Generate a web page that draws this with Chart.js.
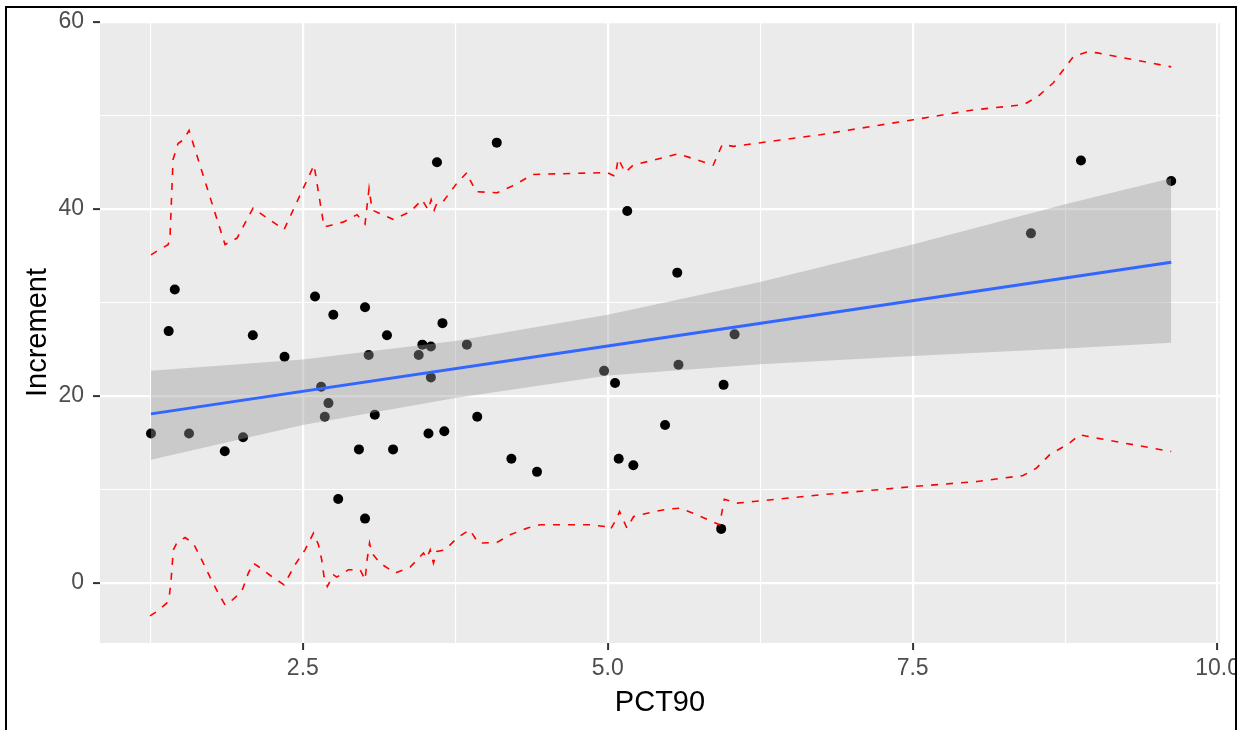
<!DOCTYPE html>
<html>
<head>
<meta charset="utf-8">
<script src="https://cdn.jsdelivr.net/npm/chart.js@4.4.1/dist/chart.umd.min.js"></script>
<style>
  html, body { margin: 0; padding: 0; background: #ffffff; overflow: hidden; }
  #wrap { position: relative; width: 1241px; height: 730px; }
  #c { position: absolute; left: 0; top: 0; }
  #frame { position: absolute; left: 5px; top: 6px; width: 1228px; height: 800px; border: 2px solid #000; }
  #edge { position: absolute; left: 1237px; top: 0; width: 4px; height: 730px; background: #fff; }
</style>
</head>
<body>
<div id="wrap">
  <canvas id="c" width="1241" height="730"></canvas>
  <div id="frame"></div>
  <div id="edge"></div>
</div>
<script>
// observed points, sorted by PCT90
const pctX = [1.255, 1.40, 1.45, 1.567, 1.86, 2.01, 2.09, 2.35, 2.60, 2.65, 2.68, 2.71, 2.75, 2.79, 2.96, 3.01,
  3.01, 3.04, 3.09, 3.19, 3.24, 3.45, 3.48, 3.53, 3.55, 3.55, 3.60, 3.645, 3.66, 3.845, 3.93, 4.09,
  4.21, 4.42, 4.97, 5.06, 5.09, 5.16, 5.21, 5.47, 5.57, 5.58, 5.93, 5.95, 6.04, 8.47, 8.88, 9.62];
const incrementY = [16.0, 26.95, 31.4, 16.0, 14.1, 15.6, 26.5, 24.2, 30.65, 21.0, 17.8, 19.25, 28.7, 9.0, 14.3, 29.5,
  6.9, 24.4, 18.0, 26.5, 14.3, 24.4, 25.5, 16.0, 25.3, 22.0, 45.0, 27.8, 16.25, 25.5, 17.8, 47.1,
  13.3, 11.9, 22.7, 21.4, 13.3, 39.8, 12.6, 16.9, 33.2, 23.35, 5.8, 21.2, 26.6, 37.4, 45.2, 43.0];

// fitted line and its confidence band
const fitX = [1.255, 5.0, 9.62];
const fitY = [18.1, 25.35, 34.3];
const bandX = [1.255, 2.5, 3.75, 5.0, 6.25, 7.5, 8.75, 9.62];
const bandUpper = [22.7, 23.9, 25.9, 28.7, 32.2, 36.2, 40.5, 43.3];
const bandLower = [13.2, 16.9, 19.8, 22.2, 23.4, 24.3, 25.1, 25.7];

// red dashed interval lines
const piUpperX = [1.255, 1.304, 1.395, 1.41, 1.436, 1.477, 1.52, 1.567, 1.862, 1.961, 2.092, 2.19, 2.346, 2.592,
  2.674, 2.74, 2.83, 2.945, 3.01, 3.043, 3.068, 3.117, 3.24, 3.38, 3.478, 3.527, 3.552, 3.577, 3.601, 3.65,
  3.765, 3.847, 3.872, 3.921, 4.094, 4.208, 4.389, 4.996, 5.061, 5.086, 5.143, 5.209, 5.488, 5.578, 5.865,
  5.939, 6.03, 6.743, 7.506, 7.998, 8.408, 8.523, 8.654, 8.818, 8.933, 9.015, 9.62];
const piUpperY = [35.1, 35.5, 36.2, 36.7, 45.3, 47.0, 47.4, 48.4, 36.2, 36.9, 40.1, 39.2, 37.8, 44.7,
  38.1, 38.3, 38.6, 39.4, 38.4, 42.2, 39.9, 39.6, 38.9, 39.7, 41.0, 39.9, 41.0, 39.9, 40.7, 40.8,
  42.8, 43.9, 43.1, 41.85, 41.75, 42.4, 43.7, 43.9, 43.5, 45.4, 43.9, 44.7, 45.6, 45.9, 44.7,
  46.9, 46.7, 47.95, 49.55, 50.6, 51.15, 52.0, 53.5, 56.3, 56.8, 56.7, 55.2];
const piLowerX = [1.247, 1.302, 1.384, 1.405, 1.42, 1.438, 1.466, 1.534, 1.602, 1.671, 1.739, 1.807, 1.862, 1.917,
  1.999, 2.053, 2.094, 2.135, 2.245, 2.346, 2.436, 2.518, 2.587, 2.628, 2.655, 2.674, 2.701, 2.751, 2.779,
  2.874, 2.97, 3.011, 3.025, 3.047, 3.066, 3.134, 3.257, 3.38, 3.489, 3.517, 3.544, 3.571, 3.599, 3.667,
  3.763, 3.866, 3.886, 3.94, 4.091, 4.2, 4.337, 4.446, 4.856, 4.98, 5.021, 5.075, 5.097, 5.157, 5.212,
  5.349, 5.485, 5.595, 5.732, 5.917, 5.956, 6.06, 6.196, 6.743, 7.506, 8.029, 8.406, 8.515, 8.622,
  8.786, 8.868, 9.008, 9.62];
const piLowerY = [-3.5, -3.04, -2.14, -1.43, 0.35, 3.56, 4.28, 4.88, 4.28, 2.49, 0.64, -1.07, -2.32, -1.86,
  -0.9, 1.07, 2.14, 1.78, 0.71, -0.18, 1.96, 3.56, 5.35, 4.1, 2.49, 0.71, -0.36, 0.89, 0.64,
  1.43, 1.43, 0.35, 2.31, 4.28, 3.21, 2.14, 1.07, 1.71, 3.21, 2.67, 3.56, 2.14, 3.38, 3.56,
  4.81, 5.7, 5.35, 4.28, 4.34, 5.17, 5.88, 6.24, 6.24, 6.05, 5.7, 6.95, 7.66, 5.88, 7.12,
  7.55, 7.91, 8.02, 7.3, 6.24, 8.98, 8.56, 8.73, 9.44, 10.33, 10.87, 11.51, 12.3, 13.72,
  14.97, 15.86, 15.51, 14.07];

const xTicksMajor = ["2.5", "5.0", "7.5", "10.0"];
const yTicksMajor = ["0", "20", "40", "60"];

const FONT = "'Liberation Sans', Arial, sans-serif";

function pairs(xs, ys) {
  return xs.map(function (x, i) { return { x: x, y: ys[i] }; });
}

function onStep(v, step) {
  const r = v / step;
  return Math.abs(r - Math.round(r)) < 1e-6;
}

const panelBg = {
  id: "panelBg",
  beforeDraw: function (chart) {
    const a = chart.chartArea;
    const ctx = chart.ctx;
    ctx.save();
    ctx.fillStyle = "#EBEBEB";
    ctx.fillRect(a.left, a.top, a.right - a.left, a.bottom - a.top);
    ctx.restore();
  }
};

new Chart(document.getElementById("c"), {
  type: "scatter",
  data: {
    datasets: [
      { type: "scatter", data: pairs(pctX, incrementY), backgroundColor: "#000000", borderWidth: 0, pointRadius: 5, order: 5 },
      { type: "line", data: pairs(bandX, bandLower), borderWidth: 0, pointRadius: 0, fill: false, order: 4 },
      { type: "line", data: pairs(bandX, bandUpper), borderWidth: 0, pointRadius: 0, fill: "-1", backgroundColor: "rgba(153,153,153,0.4)", order: 3 },
      { type: "line", data: pairs(fitX, fitY), borderColor: "#3366FF", borderWidth: 3, pointRadius: 0, fill: false, order: 2 },
      { type: "line", data: pairs(piUpperX, piUpperY), borderColor: "#FF0000", borderWidth: 1.6, borderDash: [7, 8], pointRadius: 0, fill: false, order: 1 },
      { type: "line", data: pairs(piLowerX, piLowerY), borderColor: "#FF0000", borderWidth: 1.6, borderDash: [7, 8], pointRadius: 0, fill: false, order: 1 }
    ]
  },
  options: {
    responsive: false,
    devicePixelRatio: 1,
    animation: false,
    layout: { padding: { left: 0, top: 22, right: 21, bottom: 0 } },
    plugins: { legend: { display: false }, tooltip: { enabled: false } },
    scales: {
      x: {
        type: "linear",
        min: 0.837,
        max: 10.02,
        afterFit: function (s) { s.height = 87; s.paddingLeft = 0; s.paddingRight = 0; },
        border: { display: false },
        grid: {
          color: "#FFFFFF",
          lineWidth: function (c) { return c.tick && onStep(c.tick.value, 2.5) ? 2.2 : 1.1; },
          tickLength: 7,
          tickWidth: 2,
          tickColor: function (c) { return c.tick && onStep(c.tick.value, 2.5) ? "#333333" : "rgba(0,0,0,0)"; }
        },
        ticks: {
          stepSize: 1.25,
          includeBounds: false,
          autoSkip: false,
          maxRotation: 0,
          padding: 5,
          color: "#4D4D4D",
          font: { family: FONT, size: 23 },
          callback: function (v) {
            return onStep(v, 2.5) ? xTicksMajor[Math.round(v / 2.5) - 1] : "";
          }
        },
        title: { display: true, text: "PCT90", color: "#000000", font: { family: FONT, size: 29 }, padding: { top: 0, bottom: 9.6 } }
      },
      y: {
        type: "linear",
        min: -6.4,
        max: 60,
        afterFit: function (s) { s.width = 100; s.paddingTop = 0; s.paddingBottom = 0; },
        border: { display: false },
        grid: {
          color: "#FFFFFF",
          lineWidth: function (c) { return c.tick && onStep(c.tick.value, 20) ? 2.2 : 1.1; },
          tickLength: 7,
          tickWidth: 2,
          tickColor: function (c) { return c.tick && onStep(c.tick.value, 20) ? "#333333" : "rgba(0,0,0,0)"; }
        },
        ticks: {
          stepSize: 10,
          includeBounds: false,
          autoSkip: false,
          padding: 9,
          color: "#4D4D4D",
          font: { family: FONT, size: 23 },
          callback: function (v) {
            return onStep(v, 20) ? yTicksMajor[Math.round(v / 20)] : "";
          }
        },
        title: { display: true, text: "Increment", color: "#000000", font: { family: FONT, size: 29 }, padding: { top: 20.6, bottom: 0 } }
      }
    }
  },
  plugins: [panelBg]
});
</script>
</body>
</html>
